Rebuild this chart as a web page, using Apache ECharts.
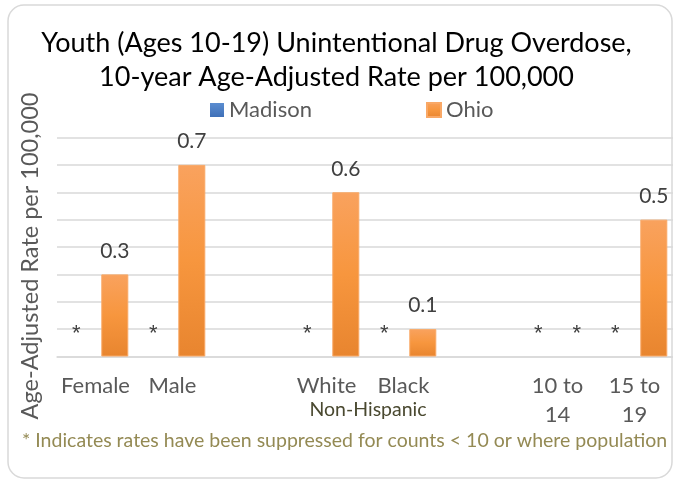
<!DOCTYPE html>
<html>
<head>
<meta charset="utf-8">
<script src="https://cdn.jsdelivr.net/npm/echarts@6/dist/echarts.min.js"></script>
<style>
  html, body { margin: 0; padding: 0; background: #fff; }
  #chart { width: 673px; height: 483px; }
</style>
</head>
<body>
<div id="chart"></div>
<script>
const categories = ['Female', 'Male', '', 'White', 'Black', '', '10 to\n14', '15 to\n19'];
const madisonRates = [null, null, null, null, null, null, null, null];
const madisonSuppressed = [true, true, false, true, true, false, true, true];
const ohioRates = [0.3, 0.7, null, 0.6, 0.1, null, null, 0.5];
const ohioSuppressed = [false, false, false, false, false, false, true, false];
const yTicks = [0, 0.1, 0.2, 0.3, 0.4, 0.5, 0.6, 0.7, 0.8];

const FONT = 'Lato';

function buildData(rates, suppressed) {
  return rates.map((v, i) => {
    if (suppressed[i]) {
      return {
        value: 0,
        itemStyle: { borderWidth: 0, color: 'rgba(0,0,0,0)' },
        label: { formatter: '*', fontFamily: 'Liberation Sans', fontSize: 22, color: '#404040', distance: 12 }
      };
    }
    if (v === null) return null;
    return { value: v };
  });
}

const ohioGradient = new echarts.graphic.LinearGradient(0, 0, 0, 1, [
  { offset: 0, color: '#F9A25E' },
  { offset: 0.5, color: '#F7963E' },
  { offset: 1, color: '#E8852F' }
]);
const madisonGradient = new echarts.graphic.LinearGradient(0, 0, 0, 1, [
  { offset: 0, color: '#5B8DD0' },
  { offset: 1, color: '#3F70B8' }
]);

const labelCommon = {
  show: true,
  position: 'top',
  distance: 13,
  fontFamily: FONT,
  fontSize: 21,
  color: '#404040',
  formatter: p => String(p.value)
};

const chart = echarts.init(document.getElementById('chart'), null, { renderer: 'canvas' });
chart.setOption({
  animation: false,
  backgroundColor: '#ffffff',
  title: {
    text: 'Youth (Ages 10-19) Unintentional Drug Overdose,\n10-year Age-Adjusted Rate per 100,000',
    left: 'center',
    top: 21,
    textStyle: { fontFamily: FONT, fontSize: 27, fontWeight: 'normal', color: '#000000', lineHeight: 34 }
  },
  legend: [
    {
      data: ['Madison'], left: 205, top: 94, icon: 'rect', itemWidth: 14, itemHeight: 14,
      textStyle: { fontFamily: FONT, fontSize: 22, color: '#595959' }
    },
    {
      data: ['Ohio'], left: 421, top: 94, icon: 'rect', itemWidth: 14, itemHeight: 14,
      textStyle: { fontFamily: FONT, fontSize: 22, color: '#595959' }
    }
  ],
  grid: { left: 57, top: 137.5, width: 619, height: 219 },
  xAxis: {
    type: 'category',
    data: categories,
    axisLine: { show: true, lineStyle: { color: '#d9d9d9', width: 1.5 } },
    axisTick: { show: false },
    axisLabel: {
      interval: 0,
      margin: 15,
      fontFamily: FONT,
      fontSize: 22,
      lineHeight: 29,
      color: '#595959'
    }
  },
  yAxis: {
    type: 'value',
    min: yTicks[0],
    max: yTicks[yTicks.length - 1],
    interval: 0.1,
    axisLabel: { show: false },
    axisLine: { show: false },
    axisTick: { show: false },
    splitLine: { lineStyle: { color: '#d9d9d9', width: 1.5 } }
  },
  series: [
    {
      name: 'Madison',
      type: 'bar',
      data: buildData(madisonRates, madisonSuppressed),
      barWidth: 27,
      barGap: '43%',
      itemStyle: { color: madisonGradient, borderWidth: 0 },
      label: labelCommon
    },
    {
      name: 'Ohio',
      type: 'bar',
      data: buildData(ohioRates, ohioSuppressed),
      barWidth: 27,
      barGap: '43%',
      itemStyle: { color: ohioGradient, borderColor: '#F9A866', borderWidth: 1 },
      label: labelCommon
    }
  ],
  graphic: [
    {
      type: 'rect',
      shape: { x: 8, y: 5, width: 664, height: 473, r: 16 },
      style: { fill: 'none', stroke: '#d9d9d9', lineWidth: 1.5 },
      silent: true, z: -1
    },
    {
      type: 'text',
      x: 30, y: 256,
      rotation: Math.PI / 2,
      style: {
        text: 'Age-Adjusted Rate per 100,000',
        fontFamily: FONT, fontSize: 23.5, fill: '#595959',
        textAlign: 'center', textVerticalAlign: 'middle'
      }
    },
    {
      type: 'text',
      x: 368, y: 410,
      style: {
        text: 'Non-Hispanic',
        fontFamily: FONT, fontSize: 19.5, fill: '#4A4930',
        textAlign: 'center', textVerticalAlign: 'middle'
      }
    },
    {
      type: 'text',
      x: 22, y: 441,
      style: {
        text: '* Indicates rates have been suppressed for counts < 10 or where population',
        fontFamily: FONT, fontSize: 19.5, fill: '#948A54',
        textAlign: 'left', textVerticalAlign: 'middle'
      }
    }
  ]
});
</script>
</body>
</html>
